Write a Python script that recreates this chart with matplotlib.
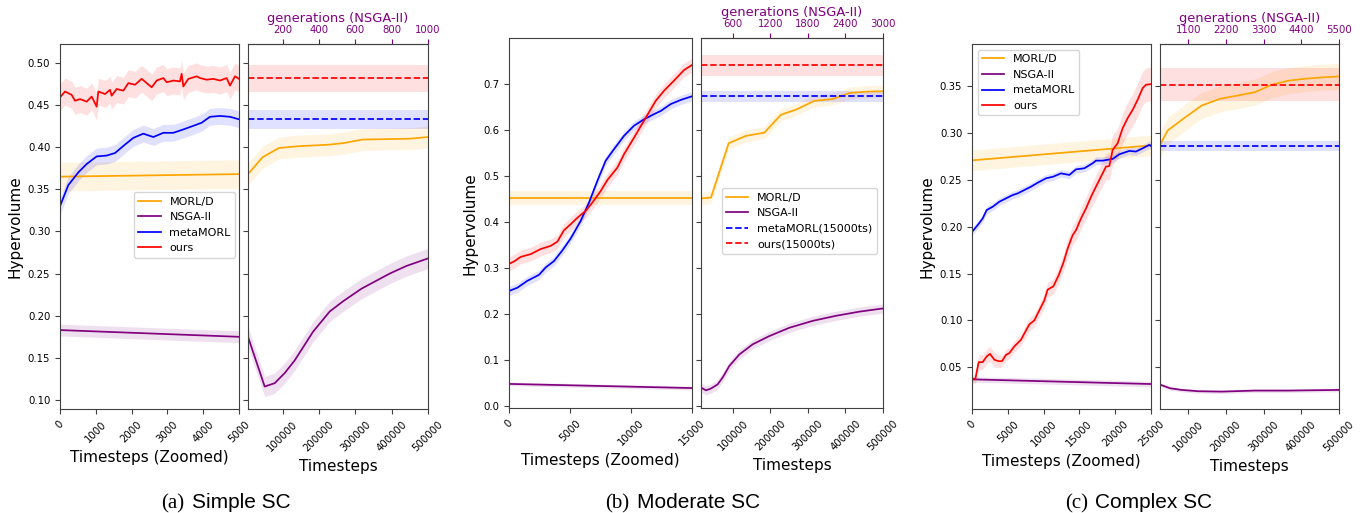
import numpy as np
import matplotlib
matplotlib.use('Agg')
import matplotlib.pyplot as plt

# ---------------- (a) Simple SC ----------------
a_ours_t = [0, 140, 326, 419, 559, 745, 885, 1024, 1071, 1257, 1397, 1443, 1583, 1769, 1909, 2095, 2281, 2421,
            2561, 2700, 2886, 2979, 3165, 3352, 3398, 3445, 3584, 3817, 3910, 4096, 4282, 4469, 4655, 4748, 4888, 5000]
a_ours_hv = [0.459, 0.466, 0.462, 0.455, 0.457, 0.454, 0.460, 0.448, 0.466, 0.463, 0.468, 0.461, 0.469, 0.467,
             0.476, 0.474, 0.481, 0.476, 0.471, 0.479, 0.482, 0.477, 0.479, 0.478, 0.487, 0.472, 0.481, 0.484,
             0.482, 0.480, 0.481, 0.479, 0.482, 0.473, 0.484, 0.481]
a_ours_sd = 0.016
a_meta_t = [0, 233, 512, 745, 1024, 1303, 1536, 1815, 2048, 2327, 2607, 2886, 3165, 3445, 3770, 3957, 4190, 4469, 4748, 5000]
a_meta_hv = [0.330, 0.355, 0.370, 0.380, 0.389, 0.390, 0.393, 0.403, 0.411, 0.416, 0.412, 0.417, 0.417, 0.421,
             0.426, 0.429, 0.436, 0.437, 0.436, 0.433]
a_meta_sd = 0.010
a_morld_t = [0, 5000]
a_morld_hv = [0.365, 0.368]
a_morld_sd = 0.017
a_nsga_t = [0, 5000]
a_nsga_hv = [0.183, 0.175]
a_nsga_sd = 0.007
a_morld_full_t = [5000, 45000, 90000, 140000, 230000, 270000, 320000, 450000, 500000]
a_morld_full_hv = [0.368, 0.388, 0.399, 0.401, 0.403, 0.405, 0.409, 0.410, 0.412]
a_morld_full_sd = 0.013
a_nsga_full_t = [5000, 50900, 78400, 106000, 133400, 183800, 229600, 266000, 316700, 394600, 440400, 500000]
a_nsga_full_hv = [0.175, 0.116, 0.120, 0.132, 0.147, 0.181, 0.205, 0.217, 0.232, 0.250, 0.259, 0.268]
a_nsga_full_sd = 0.012
a_ours_final, a_ours_final_sd = 0.482, 0.016
a_meta_final, a_meta_final_sd = 0.433, 0.011
a_gen_max = 1000

# ---------------- (b) Moderate SC ----------------
b_ours_t = [0, 410, 956, 1776, 2595, 3415, 3962, 4508, 5055, 5601, 6284, 6831, 7513, 8060, 8880, 9426, 10246,
            11066, 12022, 12705, 13525, 14344, 15000]
b_ours_hv = [0.309, 0.314, 0.324, 0.330, 0.341, 0.348, 0.357, 0.382, 0.395, 0.409, 0.424, 0.442, 0.467, 0.491,
             0.518, 0.547, 0.583, 0.620, 0.663, 0.685, 0.707, 0.730, 0.741]
b_ours_sd = 0.015
b_meta_t = [0, 683, 1503, 2459, 3005, 3688, 4371, 5055, 5874, 6557, 7240, 7923, 8606, 9426, 10246, 11066, 12022,
            12432, 13252, 14071, 15000]
b_meta_hv = [0.250, 0.257, 0.272, 0.285, 0.301, 0.315, 0.338, 0.364, 0.402, 0.442, 0.489, 0.533, 0.558, 0.587,
             0.609, 0.623, 0.636, 0.641, 0.656, 0.665, 0.673]
b_meta_sd = 0.010
b_morld_t = [0, 15000]
b_morld_hv = [0.452, 0.452]
b_morld_sd = 0.016
b_nsga_t = [0, 15000]
b_nsga_hv = [0.048, 0.039]
b_nsga_sd = 0.004
b_morld_full_t = [15000, 41650, 88730, 134900, 183800, 228200, 268200, 317000, 365900, 410300, 454700, 500000]
b_morld_full_hv = [0.451, 0.453, 0.571, 0.587, 0.594, 0.633, 0.644, 0.663, 0.667, 0.680, 0.683, 0.684]
b_morld_full_sd = 0.013
b_nsga_full_t = [15000, 28300, 41650, 59400, 72700, 90500, 117200, 152700, 197100, 250400, 312600, 374800,
                 436900, 500000]
b_nsga_full_hv = [0.040, 0.034, 0.038, 0.047, 0.062, 0.087, 0.112, 0.134, 0.152, 0.170, 0.185, 0.196, 0.205, 0.212]
b_nsga_full_sd = 0.010
b_ours_final, b_ours_final_sd = 0.740, 0.023
b_meta_final, b_meta_final_sd = 0.673, 0.012
b_gen_max = 3000

# ---------------- (c) Complex SC ----------------
c_ours_t = [0, 466, 931, 1490, 2048, 2514, 3119, 3724, 4190, 4748, 5214, 5912, 6843, 7542, 8007, 8705, 9404,
            10102, 10568, 11359, 12104, 12756, 13361, 14059, 14525, 15223, 15921, 16620, 17318, 18016, 18715,
            19181, 19646, 20344, 21043, 21741, 22439, 23137, 23834, 24300, 25000]
c_ours_hv = [0.0375, 0.0375, 0.0554, 0.0554, 0.0614, 0.0643, 0.0579, 0.0564, 0.0564, 0.0632, 0.065, 0.0722,
             0.0793, 0.0893, 0.0957, 0.100, 0.1107, 0.1214, 0.1329, 0.1364, 0.1482, 0.1614, 0.1768, 0.1911,
             0.1964, 0.2089, 0.2196, 0.2321, 0.2429, 0.2536, 0.2643, 0.265, 0.2821, 0.2893, 0.3054, 0.3161,
             0.325, 0.3357, 0.3482, 0.3518, 0.3525]
c_ours_sd = [0.004, 0.005, 0.008, 0.008, 0.008, 0.008, 0.008, 0.007, 0.006, 0.006, 0.006, 0.006, 0.006, 0.007,
             0.007, 0.007, 0.007, 0.008, 0.008, 0.008, 0.009, 0.009, 0.010, 0.010, 0.011, 0.011, 0.012, 0.012,
             0.013, 0.013, 0.014, 0.015, 0.016, 0.016, 0.016, 0.017, 0.017, 0.018, 0.018, 0.018, 0.018]
c_meta_t = [0, 791, 1490, 2048, 2886, 3817, 4748, 5679, 6377, 7308, 8239, 9170, 10334, 11359, 12429, 13593,
            14525, 15688, 16852, 17318, 18250, 19646, 20577, 21974, 22904, 23834, 24766, 25000]
c_meta_hv = [0.1946, 0.2018, 0.2089, 0.2179, 0.2214, 0.2268, 0.2304, 0.2339, 0.2357, 0.2393, 0.2429, 0.2471,
             0.2518, 0.2536, 0.2571, 0.2554, 0.2614, 0.2625, 0.2679, 0.2707, 0.2707, 0.2725, 0.2775, 0.2811,
             0.2804, 0.2839, 0.2875, 0.2864]
c_meta_sd = 0.004
c_morld_t = [0, 25000]
c_morld_hv = [0.271, 0.287]
c_morld_sd = 0.011
c_nsga_t = [0, 25000]
c_nsga_hv = [0.037, 0.032]
c_nsga_sd = 0.003
c_morld_full_t = [25000, 45300, 91300, 135600, 184200, 232900, 277100, 321300, 365600, 409800, 454000, 500000]
c_morld_full_hv = [0.2875, 0.3029, 0.3168, 0.3296, 0.3368, 0.3404, 0.3439, 0.3518, 0.3561, 0.3582, 0.3596, 0.3607]
c_morld_full_sd = 0.014
c_nsga_full_t = [25000, 51500, 82500, 126700, 188600, 277100, 365600, 500000]
c_nsga_full_hv = [0.0314, 0.0275, 0.0257, 0.0243, 0.0239, 0.025, 0.025, 0.0257]
c_nsga_full_sd = 0.002
c_ours_final, c_ours_final_sd = 0.352, 0.018
c_meta_final, c_meta_final_sd = 0.2864, 0.005
c_gen_max = 5500

full_ticks = [100000, 200000, 300000, 400000, 500000]

plt.rcParams['axes.edgecolor'] = '#404040'
plt.rcParams['xtick.color'] = '#404040'
plt.rcParams['ytick.color'] = '#404040'
plt.rcParams['xtick.labelcolor'] = 'black'
plt.rcParams['ytick.labelcolor'] = 'black'

W, H = 1367, 513
fig = plt.figure(figsize=(W / 100, H / 100), dpi=100)

C_MORLD, C_NSGA, C_META, C_OURS = 'orange', 'purple', 'blue', 'red'
LW = 1.25
ALPHA = 0.12
TICK_FS = 7.3


def px_axes(x0, x1, y0, y1, **kw):
    return fig.add_axes([x0 / W, 1 - y1 / H, (x1 - x0) / W, (y1 - y0) / H], **kw)


def band(ax, t, hv, sd, color, label=None):
    t = np.asarray(t, dtype=float)
    hv = np.asarray(hv, dtype=float)
    sd = np.asarray(sd, dtype=float)
    ax.fill_between(t, hv - sd, hv + sd, color=color, alpha=ALPHA, lw=0)
    ax.plot(t, hv, color=color, lw=LW, label=label)


def draw_group(pl, pr, py, ylim, yticks, yfmt, zmax, zticks, gen_max, zoom, full, finals,
               leg_ax, leg_kw, meta_lab, ours_lab, cap, cap_x):
    ax_l = px_axes(pl[0], pl[1], py[0], py[1])
    ax_r = px_axes(pr[0], pr[1], py[0], py[1], sharey=ax_l)

    (mt, mh, ms), (nt, nh, ns), (et, eh, es), (ot, oh, os_) = zoom
    band(ax_l, mt, mh, ms, C_MORLD, 'MORL/D')
    band(ax_l, nt, nh, ns, C_NSGA, 'NSGA-II')
    band(ax_l, et, eh, es, C_META, 'metaMORL')
    band(ax_l, ot, oh, os_, C_OURS, 'ours')

    (fmt_, fmh, fms), (fnt, fnh, fns) = full
    band(ax_r, fmt_, fmh, fms, C_MORLD, 'MORL/D')
    band(ax_r, fnt, fnh, fns, C_NSGA, 'NSGA-II')
    (mf, mfs), (of, ofs) = finals
    ax_r.axhspan(mf - mfs, mf + mfs, color=C_META, alpha=ALPHA, lw=0)
    ax_r.axhline(mf, color=C_META, lw=LW, ls='--', label=meta_lab)
    ax_r.axhspan(of - ofs, of + ofs, color=C_OURS, alpha=ALPHA, lw=0)
    ax_r.axhline(of, color=C_OURS, lw=LW, ls='--', label=ours_lab)

    ax_l.set_xlim(0, zmax)
    ax_l.set_xticks(zticks)
    ax_l.set_ylim(*ylim)
    ax_l.set_yticks(yticks)
    ax_l.set_yticklabels([yfmt % v for v in yticks])
    ax_r.set_xlim(zmax, 500000)
    ax_r.set_xticks(full_ticks)
    for ax in (ax_l, ax_r):
        ax.tick_params(labelsize=TICK_FS)
        ax.tick_params(axis='x', rotation=45)
    ax_r.tick_params(labelleft=False)
    ax_l.set_xlabel('Timesteps (Zoomed)', fontsize=11)
    ax_r.set_xlabel('Timesteps', fontsize=11)
    ax_l.set_ylabel('Hypervolume', fontsize=11)

    k = gen_max / 500000.0
    sec = ax_r.secondary_xaxis('top', functions=(lambda x: x * k, lambda g: g / k))
    sec.set_xticks([gen_max * f for f in (0.2, 0.4, 0.6, 0.8, 1.0)])
    sec.set_xticklabels(['%d' % (gen_max * f) for f in (0.2, 0.4, 0.6, 0.8, 1.0)])
    sec.tick_params(colors='purple', labelsize=TICK_FS)
    sec.set_xlabel('generations (NSGA-II)', color='purple', fontsize=9.4, labelpad=2)

    (ax_l if leg_ax == 'l' else ax_r).legend(fontsize=8, **leg_kw)

    fig.text(cap_x[0] / W, 1 - 508 / H, cap[0], ha='right', va='baseline',
             fontsize=15, family='Liberation Serif')
    fig.text(cap_x[1] / W, 1 - 508 / H, cap[1], ha='left', va='baseline',
             fontsize=15, family='Liberation Sans')


draw_group((60, 239), (248, 428), (44.3, 409.3), (0.089, 0.522),
           [0.10, 0.15, 0.20, 0.25, 0.30, 0.35, 0.40, 0.45, 0.50], '%.2f',
           5000, [0, 1000, 2000, 3000, 4000, 5000], a_gen_max,
           [(a_morld_t, a_morld_hv, a_morld_sd), (a_nsga_t, a_nsga_hv, a_nsga_sd),
            (a_meta_t, a_meta_hv, a_meta_sd), (a_ours_t, a_ours_hv, a_ours_sd)],
           [(a_morld_full_t, a_morld_full_hv, a_morld_full_sd), (a_nsga_full_t, a_nsga_full_hv, a_nsga_full_sd)],
           [(a_meta_final, a_meta_final_sd), (a_ours_final, a_ours_final_sd)],
           'l', dict(loc='upper left', bbox_to_anchor=(0.413, 0.595), borderaxespad=0),
           'metaMORL(5000ts)', 'ours(5000ts)', ('(a)', 'Simple SC'), (184, 192))

draw_group((509, 692), (701, 883), (38.3, 408.3), (-0.005, 0.799),
           [0.0, 0.1, 0.2, 0.3, 0.4, 0.5, 0.6, 0.7], '%.1f',
           15000, [0, 5000, 10000, 15000], b_gen_max,
           [(b_morld_t, b_morld_hv, b_morld_sd), (b_nsga_t, b_nsga_hv, b_nsga_sd),
            (b_meta_t, b_meta_hv, b_meta_sd), (b_ours_t, b_ours_hv, b_ours_sd)],
           [(b_morld_full_t, b_morld_full_hv, b_morld_full_sd), (b_nsga_full_t, b_nsga_full_hv, b_nsga_full_sd)],
           [(b_meta_final, b_meta_final_sd), (b_ours_final, b_ours_final_sd)],
           'r', dict(loc='upper left', bbox_to_anchor=(0.114, 0.595), borderaxespad=0),
           'metaMORL(15000ts)', 'ours(15000ts)', ('(b)', 'Moderate SC'), (629, 637))

draw_group((972, 1151), (1160, 1339), (44.3, 409.3), (0.005, 0.395),
           [0.05, 0.10, 0.15, 0.20, 0.25, 0.30, 0.35], '%.2f',
           25000, [0, 5000, 10000, 15000, 20000, 25000], c_gen_max,
           [(c_morld_t, c_morld_hv, c_morld_sd), (c_nsga_t, c_nsga_hv, c_nsga_sd),
            (c_meta_t, c_meta_hv, c_meta_sd), (c_ours_t, c_ours_hv, c_ours_sd)],
           [(c_morld_full_t, c_morld_full_hv, c_morld_full_sd), (c_nsga_full_t, c_nsga_full_hv, c_nsga_full_sd)],
           [(c_meta_final, c_meta_final_sd), (c_ours_final, c_ours_final_sd)],
           'l', dict(loc='upper left'),
           'metaMORL(25000ts)', 'ours(25000ts)', ('(c)', 'Complex SC'), (1088, 1095))

fig.savefig('out.png', dpi=100)
